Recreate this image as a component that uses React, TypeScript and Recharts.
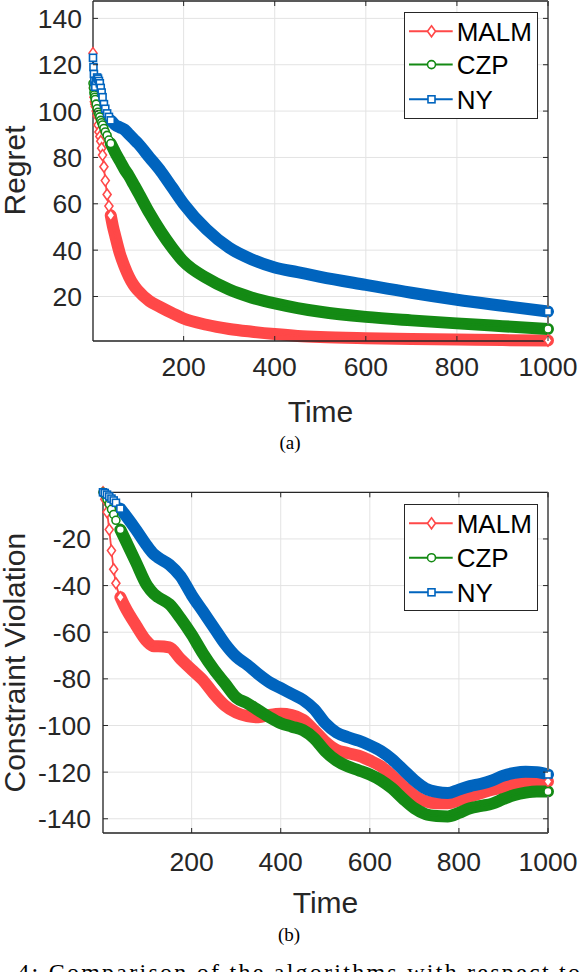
import React from 'react';
import { LineChart, Line, XAxis, YAxis, CartesianGrid } from 'recharts';

// ---------- data ----------
const seriesNames = ['MALM', 'CZP', 'NY'];

const regretTime = [1, 2, 3, 4, 5, 6, 8, 10, 12, 14, 16, 18, 20, 22, 25, 28, 32, 36, 40, 45, 50, 60, 70, 80, 90, 100, 125, 150, 175, 200, 250, 300, 350, 400, 450, 500, 600, 700, 800, 900, 1000];
const regretMALM = [125, 110, 106, 104, 103, 102, 100, 98, 94, 91, 89, 87, 84, 81, 76, 70, 64, 59, 55, 50, 46, 38.5, 33, 28.5, 25, 22.5, 18, 15.3, 12.8, 10.5, 7.8, 6, 4.8, 3.8, 3, 2.5, 2, 1.7, 1.5, 1.2, 1];
const regretCZP = [112, 110, 108, 107, 106, 105, 103, 101, 99.5, 98.5, 97.5, 96, 95, 94, 92.5, 91, 89.5, 87.5, 86, 84, 82, 78.5, 75, 72, 68.5, 65, 56, 48, 41, 35, 28, 23, 19.5, 17, 15, 13.4, 11.2, 9.7, 8.4, 7.2, 6];
const regretNY = [123, 119, 116, 113, 111, 110.5, 113, 114.5, 114, 113, 112, 110, 108, 106, 103, 101, 99, 97.5, 96, 95, 94, 93, 92, 90, 88, 86, 80, 74, 67, 60, 49, 41, 36, 32.5, 30.5, 28.5, 25, 21.6, 18.6, 16, 13.5];

const violationTime = [1, 5, 10, 15, 20, 25, 30, 40, 50, 75, 100, 115, 125, 150, 175, 200, 225, 250, 275, 300, 325, 350, 375, 400, 425, 450, 475, 500, 525, 550, 575, 600, 625, 650, 675, 700, 725, 750, 775, 800, 825, 850, 875, 900, 925, 950, 975, 1000];
const violationMALM = [0, -3, -8.5, -16, -25, -33, -39, -45, -49, -57, -64, -66, -66, -66.5, -71.5, -76, -80.5, -86.5, -91.5, -94.5, -96, -96.5, -95.5, -95, -95.5, -97.5, -102, -107, -110.5, -111.8, -113, -115, -117.5, -121.5, -126, -130, -132.5, -133.3, -133.3, -132, -130.5, -129, -127.5, -126.5, -125.2, -124.5, -124, -124];
const violationCZP = [0, -1, -3, -5, -7.3, -9.5, -12, -16, -20, -30, -40, -43.5, -45, -48, -54, -61, -69, -76, -82, -88, -90.5, -93.5, -96.5, -99, -100.5, -102, -105.5, -111, -115, -117.5, -119.2, -121, -123.5, -127, -131.5, -135.5, -138, -138.8, -139, -137.5, -135.5, -134.5, -133.5, -131.5, -129.8, -128.8, -128.3, -128.3];
const violationNY = [0, -0.3, -1, -1.8, -2.7, -3.5, -4.5, -7, -9.5, -16, -23, -26.5, -28, -31, -36, -44, -51, -58, -65, -70.5, -74, -78, -81.5, -84, -86.5, -89, -93, -99, -103, -105, -106.5, -108.5, -111, -114.5, -119, -123.5, -127, -128.5, -129, -127.5, -126, -125, -123.5, -121.5, -120.3, -119.8, -120, -121];

const timeTicks = [200, 400, 600, 800, 1000];
const regretTicks = [20, 40, 60, 80, 100, 120, 140];
const violationTicks = [-140, -120, -100, -80, -60, -40, -20];

// ---------- styles ----------
const FONT = '"Liberation Sans", Arial, Helvetica, sans-serif';
const SERIF = '"Liberation Serif", "Times New Roman", serif';
const AX = '#262626';
const GRID = '#e3e3e3';
const COLORS: Record<string, string> = { MALM: '#ff4848', CZP: '#148a14', NY: '#0064be' };
const SHAPES: Record<string, string> = { MALM: 'diamond', CZP: 'circle', NY: 'square' };

function Marker({ shape, cx, cy, color }: any) {
  if (shape === 'diamond') {
    return <polygon points={`${cx},${cy - 5.5} ${cx + 4},${cy} ${cx},${cy + 5.5} ${cx - 4},${cy}`} fill="#fff" stroke={color} strokeWidth={1.6} />;
  }
  if (shape === 'circle') {
    return <circle cx={cx} cy={cy} r={4} fill="#fff" stroke={color} strokeWidth={1.6} />;
  }
  return <rect x={cx - 3.5} y={cy - 3.5} width={7} height={7} fill="#fff" stroke={color} strokeWidth={1.6} />;
}

function firstSeriesKey(r: any) {
  return r[seriesNames[0]];
}

function Panel({ time, values, yDomain, yTicks, bandFrom, markUntil, margin, height, xLabelGap, yLabelGap }: any) {
  const rows = time.map((t: number, i: number) => {
    const r: any = { t };
    seriesNames.forEach((n) => { r[n] = values[n][i]; });
    return r;
  });
  const last = rows.length - 1;

  const bottomTick = (p: any) => (
    <g key={`bt-${p.index}`}>
      <line x1={p.x} x2={p.x} y1={p.y - xLabelGap} y2={p.y - xLabelGap - 5} stroke={AX} strokeWidth={1} />
      <text x={p.x} y={p.y} dy="0.71em" textAnchor="middle" fill={AX} fontFamily={FONT} fontSize={26.5}>{p.payload.value}</text>
    </g>
  );
  const leftTick = (p: any) => (
    <g key={`lt-${p.index}`}>
      <line x1={p.x + yLabelGap} x2={p.x + yLabelGap + 5} y1={p.y} y2={p.y} stroke={AX} strokeWidth={1} />
      <text x={p.x} y={p.y} dy="0.36em" textAnchor="end" fill={AX} fontFamily={FONT} fontSize={26.5}>{p.payload.value}</text>
    </g>
  );
  const topTick = (p: any) => (
    <g key={`tt-${p.index}`}>
      <line x1={p.x} x2={p.x} y1={p.y} y2={p.y + 5} stroke={AX} strokeWidth={1} />
    </g>
  );
  const rightTick = (p: any) => (
    <g key={`rt-${p.index}`}>
      <line x1={p.x} x2={p.x - 5} y1={p.y} y2={p.y} stroke={AX} strokeWidth={1} />
    </g>
  );

  const lines: any[] = [];
  seriesNames.forEach((n) => {
    lines.push(
      <Line
        key={`${n}-band`}
        xAxisId="main"
        yAxisId="main"
        dataKey={(r: any) => (r.t >= bandFrom ? r[n] : null)}
        type="monotone"
        stroke={COLORS[n]}
        strokeWidth={12}
        strokeLinecap="round"
        strokeLinejoin="round"
        dot={false}
        activeDot={false}
        isAnimationActive={false}
        legendType="none"
      />
    );
    lines.push(
      <Line
        key={`${n}-marks`}
        xAxisId="main"
        yAxisId="main"
        dataKey={n}
        type="monotone"
        stroke={COLORS[n]}
        strokeWidth={1.8}
        dot={(p: any) =>
          p.payload.t <= markUntil || p.index === last ? (
            <Marker key={`${n}-m-${p.index}`} shape={SHAPES[n]} cx={p.cx} cy={p.cy} color={COLORS[n]} />
          ) : (
            <g key={`${n}-m-${p.index}`} />
          )
        }
        activeDot={false}
        isAnimationActive={false}
      />
    );
  });

  const m = { top: margin.top - 1, right: margin.right - 1, bottom: margin.bottom - 1, left: margin.left - 1 };

  return (
    <LineChart width={580} height={height} data={rows} margin={m}>
      <CartesianGrid xAxisId="main" yAxisId="main" stroke={GRID} strokeWidth={1} />
      <XAxis xAxisId="main" dataKey="t" type="number" domain={[1, 1000]} ticks={timeTicks} interval={0} height={1}
        tickSize={0} tickMargin={xLabelGap} tickLine={false} axisLine={{ stroke: AX, strokeWidth: 1.3 }} tick={bottomTick} />
      <XAxis xAxisId="top" orientation="top" dataKey="t" type="number" domain={[1, 1000]} ticks={timeTicks} interval={0} height={1}
        tickSize={0} tickMargin={0} tickLine={false} axisLine={{ stroke: AX, strokeWidth: 1.3 }} tick={topTick} />
      <YAxis yAxisId="main" type="number" domain={yDomain} ticks={yTicks} interval={0} width={1}
        tickSize={0} tickMargin={yLabelGap} tickLine={false} axisLine={{ stroke: AX, strokeWidth: 1.3 }} tick={leftTick} />
      <YAxis yAxisId="right" orientation="right" type="number" domain={yDomain} ticks={yTicks} interval={0} width={1}
        tickSize={0} tickMargin={0} tickLine={false} axisLine={{ stroke: '#707070', strokeWidth: 2 }} tick={rightTick} />
      {lines}
      <Line dataKey={firstSeriesKey} xAxisId="top" yAxisId="right" stroke="none" dot={false} activeDot={false} isAnimationActive={false} legendType="none" />
    </LineChart>
  );
}

function LegendBox({ left, top, rows }: any) {
  return (
    <svg width={135} height={109} style={{ position: 'absolute', left, top, overflow: 'visible' }}>
      <rect x={0.5} y={0.5} width={133} height={106} fill="#fff" stroke={AX} strokeWidth={1} />
      {seriesNames.map((n, i) => (
        <g key={n}>
          <line x1={5} x2={48.7} y1={rows[i]} y2={rows[i]} stroke={COLORS[n]} strokeWidth={2} />
          <Marker shape={SHAPES[n]} cx={27.5} cy={rows[i]} color={COLORS[n]} />
          <text x={52.7} y={rows[i]} dy="0.36em" fontFamily={FONT} fontSize={26} fill="#000">{n}</text>
        </g>
      ))}
    </svg>
  );
}

export default function App() {
  return (
    <div style={{ position: 'absolute', left: 0, top: 0, width: 580, height: 972, overflow: 'hidden', background: '#fff' }}>
      <div style={{ position: 'absolute', left: 0, top: 0 }}>
        <Panel
          time={regretTime}
          values={{ MALM: regretMALM, CZP: regretCZP, NY: regretNY }}
          yDomain={[0.8, 147.5]}
          yTicks={regretTicks}
          bandFrom={40}
          markUntil={40}
          height={460}
          margin={{ top: 1, right: 32, bottom: 119, left: 93 }}
          xLabelGap={16}
          yLabelGap={11}
        />
      </div>
      <div style={{ position: 'absolute', left: 0, top: 480 }}>
        <Panel
          time={violationTime}
          values={{ MALM: violationMALM, CZP: violationCZP, NY: violationNY }}
          yDomain={[-146.1, 0]}
          yTicks={violationTicks}
          bandFrom={40}
          markUntil={40}
          height={470}
          margin={{ top: 12.3, right: 32, bottom: 117, left: 103 }}
          xLabelGap={19}
          yLabelGap={12}
        />
      </div>
      <LegendBox left={404} top={12} rows={[19.3, 52.6, 87.3]} />
      <LegendBox left={404} top={504} rows={[19.3, 53.7, 88.3]} />
      <svg width={580} height={972} style={{ position: 'absolute', left: 0, top: 0, pointerEvents: 'none' }}>
        <text transform="translate(24.5,170.5) rotate(-90)" textAnchor="middle" fontFamily={FONT} fontSize={30} fill={AX}>Regret</text>
        <text x={320.5} y={421.7} textAnchor="middle" fontFamily={FONT} fontSize={30} fill={AX}>Time</text>
        <text x={290} y={449} textAnchor="middle" fontFamily={SERIF} fontSize={19} fill="#000">(a)</text>
        <text transform="translate(24.5,662.7) rotate(-90)" textAnchor="middle" fontFamily={FONT} fontSize={30} fill={AX}>Constraint Violation</text>
        <text x={325.5} y={912.7} textAnchor="middle" fontFamily={FONT} fontSize={30} fill={AX}>Time</text>
        <text x={289} y={941} textAnchor="middle" fontFamily={SERIF} fontSize={19} fill="#000">(b)</text>
        <text x={-38} y={980} textLength={618} lengthAdjust="spacing" fontFamily={SERIF} fontSize={24} fill="#000">Fig. 4: Comparison of the algorithms with respect to</text>
      </svg>
    </div>
  );
}
